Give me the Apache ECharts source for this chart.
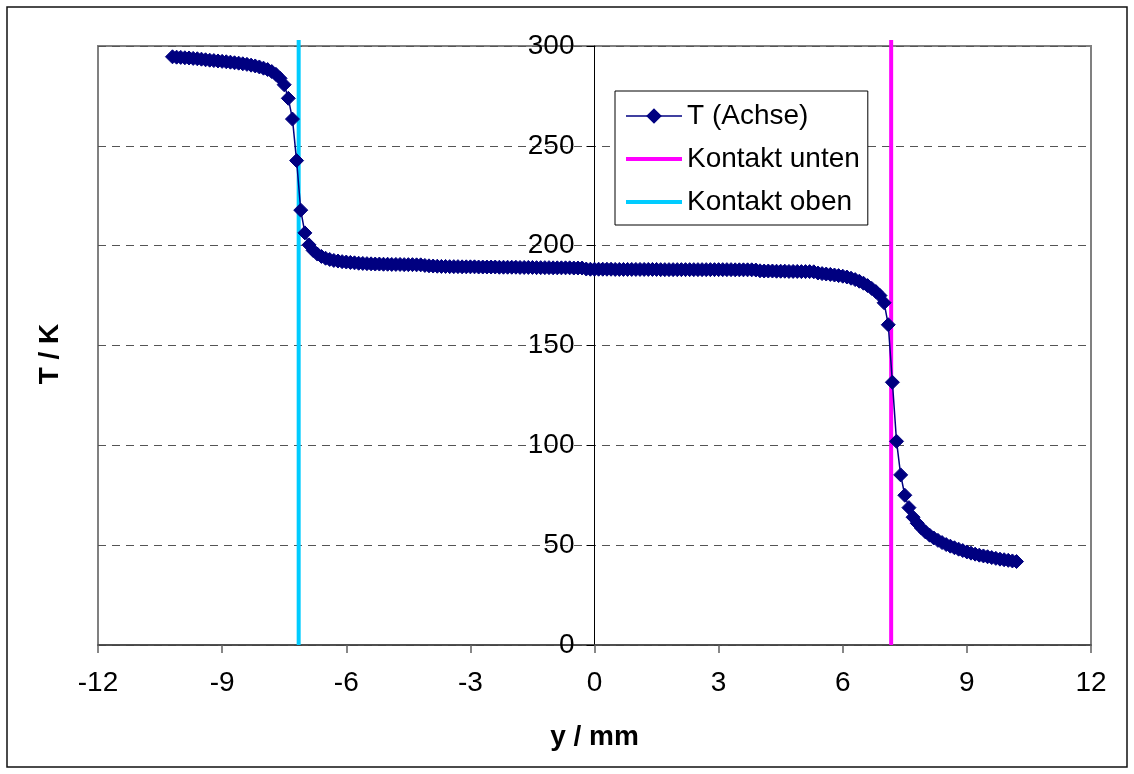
<!DOCTYPE html>
<html>
<head>
<meta charset="utf-8">
<script src="https://cdn.jsdelivr.net/npm/echarts@6/dist/echarts.min.js"></script>
<style>
  html, body { margin: 0; padding: 0; background: #fff; }
  #chart { width: 1134px; height: 774px; }
</style>
</head>
<body>
<div id="chart"></div>
<script>
// Position along the axis (mm)
const posMM = [
  -10.2, -10.1, -10.0, -9.9, -9.8, -9.7, -9.6, -9.5, -9.4, -9.3,
  -9.2, -9.1, -9.0, -8.9, -8.8, -8.7, -8.6, -8.5, -8.4, -8.3,
  -8.2, -8.1, -8.0, -7.9, -7.8, -7.7, -7.6, -7.5, -7.4, -7.3,
  -7.2, -7.1, -7.0, -6.9, -6.8, -6.7, -6.6, -6.5, -6.4, -6.3,
  -6.2, -6.1, -6.0, -5.9, -5.8, -5.7, -5.6, -5.5, -5.4, -5.3,
  -5.2, -5.1, -5.0, -4.9, -4.8, -4.7, -4.6, -4.5, -4.4, -4.3,
  -4.2, -4.1, -4.0, -3.9, -3.8, -3.7, -3.6, -3.5, -3.4, -3.3,
  -3.2, -3.1, -3.0, -2.9, -2.8, -2.7, -2.6, -2.5, -2.4, -2.3,
  -2.2, -2.1, -2.0, -1.9, -1.8, -1.7, -1.6, -1.5, -1.4, -1.3,
  -1.2, -1.1, -1.0, -0.9, -0.8, -0.7, -0.6, -0.5, -0.4, -0.3,
  -0.2, -0.1, 0.0, 0.1, 0.2, 0.3, 0.4, 0.5, 0.6, 0.7,
  0.8, 0.9, 1.0, 1.1, 1.2, 1.3, 1.4, 1.5, 1.6, 1.7,
  1.8, 1.9, 2.0, 2.1, 2.2, 2.3, 2.4, 2.5, 2.6, 2.7,
  2.8, 2.9, 3.0, 3.1, 3.2, 3.3, 3.4, 3.5, 3.6, 3.7,
  3.8, 3.9, 4.0, 4.1, 4.2, 4.3, 4.4, 4.5, 4.6, 4.7,
  4.8, 4.9, 5.0, 5.1, 5.2, 5.3, 5.4, 5.5, 5.6, 5.7,
  5.8, 5.9, 6.0, 6.1, 6.2, 6.3, 6.4, 6.5, 6.6, 6.7,
  6.8, 6.9, 7.0, 7.1, 7.2, 7.3, 7.4, 7.5, 7.6, 7.7,
  7.8, 7.9, 8.0, 8.1, 8.2, 8.3, 8.4, 8.5, 8.6, 8.7,
  8.8, 8.9, 9.0, 9.1, 9.2, 9.3, 9.4, 9.5, 9.6, 9.7,
  9.8, 9.9, 10.0, 10.1, 10.2
];

// Temperature on the axis (K)
const tempAxis = [
  294.6, 294.4, 294.3, 294.1, 294.0, 293.8, 293.6, 293.4, 293.1, 292.9,
  292.7, 292.5, 292.3, 292.1, 291.9, 291.6, 291.4, 291.1, 290.8, 290.4,
  290.0, 289.5, 288.9, 288.2, 287.2, 285.8, 283.8, 280.6, 273.8, 263.4,
  242.6, 217.8, 206.4, 200.4, 197.6, 195.8, 194.6, 193.7, 193.1, 192.6,
  192.3, 192.0, 191.8, 191.6, 191.4, 191.2, 191.1, 191.0, 190.9, 190.8,
  190.8, 190.7, 190.7, 190.6, 190.6, 190.6, 190.5, 190.5, 190.5, 190.4,
  190.4, 190.1, 189.9, 189.8, 189.7, 189.6, 189.6, 189.5, 189.5, 189.5,
  189.4, 189.4, 189.4, 189.4, 189.3, 189.3, 189.3, 189.3, 189.3, 189.2,
  189.2, 189.2, 189.2, 189.2, 189.1, 189.1, 189.1, 189.1, 189.0, 189.0,
  189.0, 189.0, 188.9, 188.9, 188.9, 188.9, 188.9, 188.8, 188.8, 188.8,
  188.3, 188.2, 188.2, 188.2, 188.2, 188.2, 188.2, 188.1, 188.1, 188.1,
  188.1, 188.1, 188.1, 188.1, 188.1, 188.1, 188.1, 188.1, 188.0, 188.0,
  188.0, 188.0, 188.0, 188.0, 188.0, 188.0, 188.0, 188.0, 188.0, 188.0,
  188.0, 188.0, 188.0, 188.0, 188.0, 188.0, 187.9, 187.9, 187.9, 187.9,
  187.9, 187.8, 187.4, 187.3, 187.3, 187.3, 187.2, 187.2, 187.2, 187.1,
  187.1, 187.1, 187.0, 187.0, 187.0, 186.9, 186.3, 186.0, 185.8, 185.6,
  185.3, 185.0, 184.7, 184.3, 183.7, 183.0, 182.2, 181.2, 180.0, 178.6,
  177.0, 175.0, 171.4, 160.4, 131.6, 102.0, 85.2, 75.0, 68.8, 64.0,
  61.0, 58.6, 56.6, 55.0, 53.6, 52.4, 51.3, 50.3, 49.5, 48.7,
  48.0, 47.3, 46.6, 46.0, 45.5, 45.0, 44.6, 44.2, 43.8, 43.4,
  43.0, 42.7, 42.4, 42.1, 41.8
];

// Contact positions (mm) and vertical extent of the marker lines (K)
const contactLowerPos = 7.17;
const contactUpperPos = -7.15;
const contactSpan = [0, 303];

// Axis ranges and tick steps
const xRange = [-12, 12], xStep = 3;
const yRange = [0, 300], yStep = 50;

const FONT = '"Liberation Sans", Arial, sans-serif';
const FS = 28;

const GRID = { left: 98, right: 43, top: 46, bottom: 129 };
const CHART_W = 1134;

const axisSeries = posMM.map((p, i) => [p, tempAxis[i]]);
const lowerLine = contactSpan.map(t => [contactLowerPos, t]);
const upperLine = contactSpan.map(t => [contactUpperPos, t]);

// The value axis for T sits at y = 0 mm, inside the plot area
const plotW = CHART_W - GRID.left - GRID.right;
const zeroOffset = -plotW * (0 - xRange[0]) / (xRange[1] - xRange[0]);

const chart = echarts.init(document.getElementById('chart'), null, { renderer: 'canvas' });

chart.setOption({
  backgroundColor: '#ffffff',
  animation: false,
  textStyle: { fontFamily: FONT },
  grid: {
    left: GRID.left, right: GRID.right, top: GRID.top, bottom: GRID.bottom,
    show: true, borderColor: '#808080', borderWidth: 2, backgroundColor: 'transparent'
  },
  legend: {
    orient: 'vertical',
    left: 615, top: 91,
    padding: [11, 8, 9, 9],
    itemGap: 15,
    itemWidth: 56, itemHeight: 16,
    backgroundColor: '#ffffff',
    borderColor: '#000000', borderWidth: 1,
    textStyle: { fontFamily: FONT, fontSize: FS, color: '#000' },
    data: [
      { name: 'T (Achse)', lineStyle: { width: 1.5 } },
      { name: 'Kontakt unten', lineStyle: { width: 4 } },
      { name: 'Kontakt oben', lineStyle: { width: 4 } }
    ]
  },
  xAxis: {
    type: 'value',
    min: xRange[0], max: xRange[1], interval: xStep,
    name: 'y / mm',
    nameLocation: 'middle', nameGap: 78,
    nameTextStyle: { fontFamily: FONT, fontSize: FS, fontWeight: 'bold', color: '#000' },
    axisLine: { show: true, onZero: false, lineStyle: { color: '#404040', width: 1.5 } },
    axisTick: { show: true, inside: false, length: 8, lineStyle: { color: '#606060', width: 1.5 } },
    axisLabel: { fontFamily: FONT, fontSize: FS, color: '#000', margin: 24 },
    splitLine: { show: false }
  },
  yAxis: {
    type: 'value',
    min: yRange[0], max: yRange[1], interval: yStep,
    offset: zeroOffset,
    axisLine: { show: true, onZero: false, lineStyle: { color: '#000', width: 1 } },
    axisTick: { show: true, inside: false, length: 8, lineStyle: { color: '#000', width: 1 } },
    axisLabel: { fontFamily: FONT, fontSize: FS, color: '#000', margin: 20 },
    splitLine: { show: true, lineStyle: { color: '#555', width: 1, type: [8, 6] } }
  },
  graphic: [
    {
      type: 'rect', silent: true, z: -1,
      shape: { x: 7, y: 7, width: 1120, height: 760 },
      style: { fill: 'none', stroke: '#111', lineWidth: 1.5 }
    },
    {
      type: 'text', silent: true,
      x: 50, y: 354, rotation: Math.PI / 2,
      style: {
        text: 'T / K', font: 'bold ' + FS + 'px ' + FONT, fill: '#000',
        align: 'center', verticalAlign: 'middle'
      }
    }
  ],
  series: [
    {
      name: 'T (Achse)',
      type: 'line',
      data: axisSeries,
      z: 5,
      symbol: 'diamond',
      symbolSize: 14,
      showSymbol: true,
      itemStyle: { color: '#000080', borderColor: '#000080', borderWidth: 1 },
      lineStyle: { color: '#000080', width: 1.5 }
    },
    {
      name: 'Kontakt unten',
      type: 'line',
      data: lowerLine,
      z: 3,
      clip: false,
      symbol: 'line',
      showSymbol: false,
      itemStyle: { color: '#ff00ff' },
      lineStyle: { color: '#ff00ff', width: 4 }
    },
    {
      name: 'Kontakt oben',
      type: 'line',
      data: upperLine,
      z: 3,
      clip: false,
      symbol: 'line',
      showSymbol: false,
      itemStyle: { color: '#00ccff' },
      lineStyle: { color: '#00ccff', width: 4 }
    }
  ]
});
</script>
</body>
</html>
